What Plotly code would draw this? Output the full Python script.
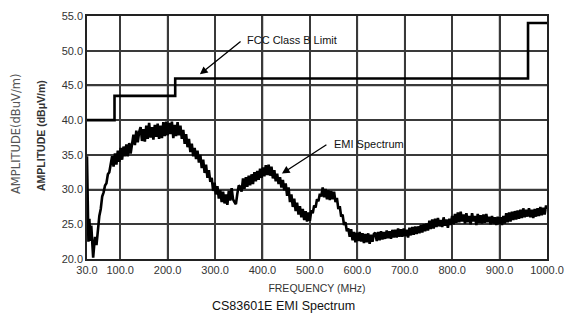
import plotly.graph_objects as go

# FCC Class B limit (step line)
fcc_freq = [30, 88, 88, 216, 216, 960, 960, 1000]
fcc_amp = [40.0, 40.0, 43.5, 43.5, 46.0, 46.0, 54.0, 54.0]

# EMI spectrum
emi_freq = [30, 31, 33, 35, 37, 39, 41, 43, 45, 47, 50, 53, 56, 59, 62, 65, 68, 71, 74, 77,
            80, 83, 86, 89, 92, 95, 98, 101, 104, 107, 110, 113, 116, 119, 122, 125, 128, 131, 134, 137,
            140, 143, 146, 149, 152, 155, 158, 161, 164, 167, 170, 173, 176, 179, 182, 185, 188, 191, 194, 197,
            200, 203, 206, 209, 212, 215, 218, 221, 224, 227, 230, 233, 236, 239, 242, 245, 248, 251, 254, 257,
            260, 263, 266, 269, 272, 275, 278, 281, 284, 287, 290, 293, 296, 299, 302, 305, 308, 311, 314, 317,
            320, 323, 326, 329, 332, 335, 338, 341, 344, 347, 350, 353, 356, 359, 362, 365, 368, 371, 374, 377,
            380, 383, 386, 389, 392, 395, 398, 401, 404, 407, 410, 413, 416, 419, 422, 425, 428, 431, 434, 437,
            440, 443, 446, 449, 452, 455, 458, 461, 464, 467, 470, 473, 476, 479, 482, 485, 488, 491, 494, 497,
            500, 503, 506, 509, 512, 515, 518, 521, 524, 527, 530, 533, 536, 539, 542, 545, 548, 551, 554, 557,
            560, 563, 566, 569, 572, 575, 578, 581, 584, 587, 590, 593, 596, 599,
            602, 605, 608, 611, 614, 617, 620, 623, 626, 629, 632, 635, 638, 641, 644, 647, 650, 653, 656, 659,
            662, 665, 668, 671, 674, 677, 680, 683, 686, 689, 692, 695, 698,
            701, 704, 707, 710, 713, 716, 719, 722, 725, 728, 731, 734, 737, 740, 743, 746, 749, 752, 755, 758,
            761, 764, 767, 770, 773, 776, 779, 782, 785, 788, 791, 794, 797,
            800, 803, 806, 809, 812, 815, 818, 821, 824, 827, 830, 833, 836, 839, 842, 845, 848, 851, 854, 857,
            860, 863, 866, 869, 872, 875, 878, 881, 884, 887, 890, 893, 896, 899,
            902, 905, 908, 911, 914, 917, 920, 923, 926, 929, 932, 935, 938, 941, 944, 947, 950, 953, 956, 959,
            962, 965, 968, 971, 974, 977, 980, 983, 986, 989, 992, 995, 998, 1000]
emi_amp = [34.8, 27.0, 22.5, 25.8, 22.6, 24.8, 21.3, 20.2, 21.8, 23.2, 22.0, 24.8, 26.2, 27.2, 29.0, 29.6, 30.6, 30.9, 32.2, 32.5,
           33.9, 34.8, 33.3, 35.2, 33.6, 35.6, 34.0, 36.0, 34.3, 36.2, 34.8, 36.5, 34.8, 36.7, 35.2, 37.0, 37.9, 36.4, 38.5, 36.8,
           38.3, 39.0, 37.0, 38.7, 36.9, 39.2, 37.3, 39.6, 37.5, 39.0, 37.2, 39.3, 37.6, 39.5, 37.3, 39.2, 37.4, 39.7, 37.7, 39.8,
           37.8, 39.6, 38.0, 39.8, 37.4, 39.3, 37.7, 39.7, 37.8, 39.2, 37.3, 38.6, 36.6, 38.0, 36.1, 37.3, 35.4, 36.6, 34.8, 36.0,
           34.4, 35.6, 33.9, 35.0, 33.1, 34.3, 32.4, 33.6, 31.7, 32.8, 31.1, 31.7, 29.8, 31.0, 29.3, 30.5, 28.7, 29.9, 28.2, 29.7,
           28.0, 29.3, 27.8, 29.8, 28.4, 30.2, 28.6, 28.2, 27.9, 29.4, 30.6, 30.4, 29.7, 31.6, 30.1, 31.8, 30.4, 32.0, 30.6, 32.2,
           30.8, 32.5, 31.2, 32.7, 31.4, 33.0, 31.7, 33.2, 31.9, 33.5, 32.1, 33.6, 32.0, 33.3, 31.6, 32.8, 31.2, 32.3, 30.8, 31.8,
           30.3, 31.4, 29.9, 30.9, 29.1, 30.3, 28.2, 29.3, 27.5, 28.7, 26.9, 28.1, 26.4, 27.6, 26.0, 27.2, 25.6, 26.9, 25.4, 26.7,
           25.5, 27.0, 26.6, 27.7, 27.4, 28.6, 28.3, 29.4, 29.0, 30.3, 28.9, 30.1, 28.6, 29.9, 28.5, 29.8, 28.6, 29.7, 28.2, 28.8,
           27.2, 27.6, 26.1, 26.4, 24.9, 25.3, 24.0, 24.4, 23.2, 24.3, 22.7, 23.9, 22.4, 23.8,
           22.6, 23.9, 22.5, 23.7, 22.3, 23.6, 22.4, 23.7, 22.2, 23.5, 22.5, 23.6, 23.8, 22.6, 23.9, 22.7, 24.0, 22.8, 23.9, 22.9,
           24.1, 23.0, 24.0, 22.9, 24.2, 23.1, 24.2, 23.1, 24.4, 23.2, 24.3, 23.2, 24.4,
           23.3, 24.2, 23.1, 24.5, 23.4, 24.6, 23.5, 24.7, 23.6, 24.7, 23.7, 24.9, 23.8, 25.0, 24.0, 25.1, 24.1, 25.5, 24.3, 25.7,
           24.4, 25.8, 24.6, 25.9, 24.7, 25.6, 24.6, 26.0, 24.8, 25.7, 24.5, 25.8, 24.9,
           26.2, 25.0, 26.5, 25.2, 26.7, 25.3, 26.8, 25.4, 26.4, 25.1, 26.6, 25.3, 26.2, 25.0, 26.6, 25.4, 26.2, 24.9, 26.5, 25.2,
           26.3, 25.1, 26.4, 25.2, 26.5, 25.3, 26.1, 25.0, 26.2, 25.1, 26.0, 24.9, 26.1, 25.0,
           26.0, 24.9, 26.2, 25.1, 26.6, 25.3, 26.7, 25.4, 26.8, 25.6, 26.9, 25.7, 27.0, 25.8, 27.1, 25.9, 27.3, 26.0, 27.1, 26.1,
           27.3, 26.0, 27.1, 25.9, 27.2, 26.1, 27.3, 26.2, 27.5, 26.3, 27.4, 26.4, 27.7, 27.2]

x_ticks = [30, 100, 200, 300, 400, 500, 600, 700, 800, 900, 1000]
y_ticks = [20, 25, 30, 35, 40, 45, 50, 55]

fig = go.Figure()
# one grid line per tick (separate traces, no gaps)
for xv in x_ticks[1:-1]:
    fig.add_trace(go.Scatter(x=[xv, xv], y=[y_ticks[0], y_ticks[-1]], mode="lines",
                             line=dict(color="#3a3a3a", width=1.6), hoverinfo="skip", showlegend=False))
for yv in y_ticks[1:-1]:
    fig.add_trace(go.Scatter(x=[x_ticks[0], x_ticks[-1]], y=[yv, yv], mode="lines",
                             line=dict(color="#3a3a3a", width=1.6), hoverinfo="skip", showlegend=False))
fig.add_trace(go.Scatter(x=emi_freq, y=emi_amp, mode="lines",
                         line=dict(color="black", width=2.6), showlegend=False))
fig.add_trace(go.Scatter(x=fcc_freq, y=fcc_amp, mode="lines",
                         line=dict(color="black", width=2.6), showlegend=False))

axis_font = dict(family="Liberation Sans, Arial", size=11, color="#333")
common = dict(showgrid=True, gridcolor="#3a3a3a", gridwidth=1.6,
              showline=True, linecolor="#222", linewidth=1.5, mirror=True,
              zeroline=False, ticks="", tickfont=axis_font, tickformat=".1f", tickmode="array")
fig.update_layout(template="none")
fig.update_xaxes(range=[30, 1000], tickvals=x_ticks, **common,
                 title=dict(text="FREQUENCY (MHz)", font=dict(family="Liberation Sans, Arial", size=10.5, color="#333"),
                            standoff=10))
fig.update_yaxes(range=[20, 55], tickvals=y_ticks, **common)

ann = [
    dict(x=268, y=46.6, ax=357, ay=51.5, xref="x", yref="y", axref="x", ayref="y",
         text="", showarrow=True, arrowhead=2, arrowsize=1.2, arrowwidth=1.3, arrowcolor="black", standoff=0),
    dict(x=441, y=32.3, ax=538, ay=36.6, xref="x", yref="y", axref="x", ayref="y",
         text="", showarrow=True, arrowhead=2, arrowsize=1.2, arrowwidth=1.3, arrowcolor="black", standoff=0),
    dict(x=363, y=51.5, xref="x", yref="y", text="FCC Class B Limit", showarrow=False,
         xanchor="left", yanchor="middle", font=dict(family="Liberation Sans, Arial", size=11, color="#111")),
    dict(x=546, y=36.5, xref="x", yref="y", text="EMI Spectrum", showarrow=False,
         xanchor="left", yanchor="middle", font=dict(family="Liberation Sans, Arial", size=11, color="#111")),
    dict(x=16, y=134, xref="paper", yref="paper", text="AMPLITUDE(dBuV/m)", showarrow=False, textangle=-90,
         xanchor="center", yanchor="middle", font=dict(family="DejaVu Sans", size=11.5, color="#555")),
    dict(x=41, y=136, xref="paper", yref="paper", text="<b>AMPLITUDE (dBμV/m)</b>", showarrow=False, textangle=-90,
         xanchor="center", yanchor="middle", font=dict(family="Liberation Sans, Arial", size=10.5, color="#333")),
    dict(x=283, y=306, xref="paper", yref="paper", text="CS83601E EMI Spectrum", showarrow=False,
         xanchor="center", yanchor="middle", font=dict(family="Liberation Sans, Arial", size=12.5, color="#111")),
]
W, H = 570, 318
L, R, T, B = 87, 23, 16, 59
pw, ph = W - L - R, H - T - B
for a in ann:
    if a["xref"] == "paper":
        a["x"] = (a["x"] - L) / pw
        a["y"] = 1 - (a["y"] - T) / ph
fig.update_layout(annotations=ann, width=W, height=H,
                  margin=dict(l=L, r=R, t=T, b=B, pad=0),
                  plot_bgcolor="white", paper_bgcolor="white")
fig.write_html("out.html", config={"displayModeBar": False},
               post_script="document.body.style.margin='0';document.body.style.padding='0';")
